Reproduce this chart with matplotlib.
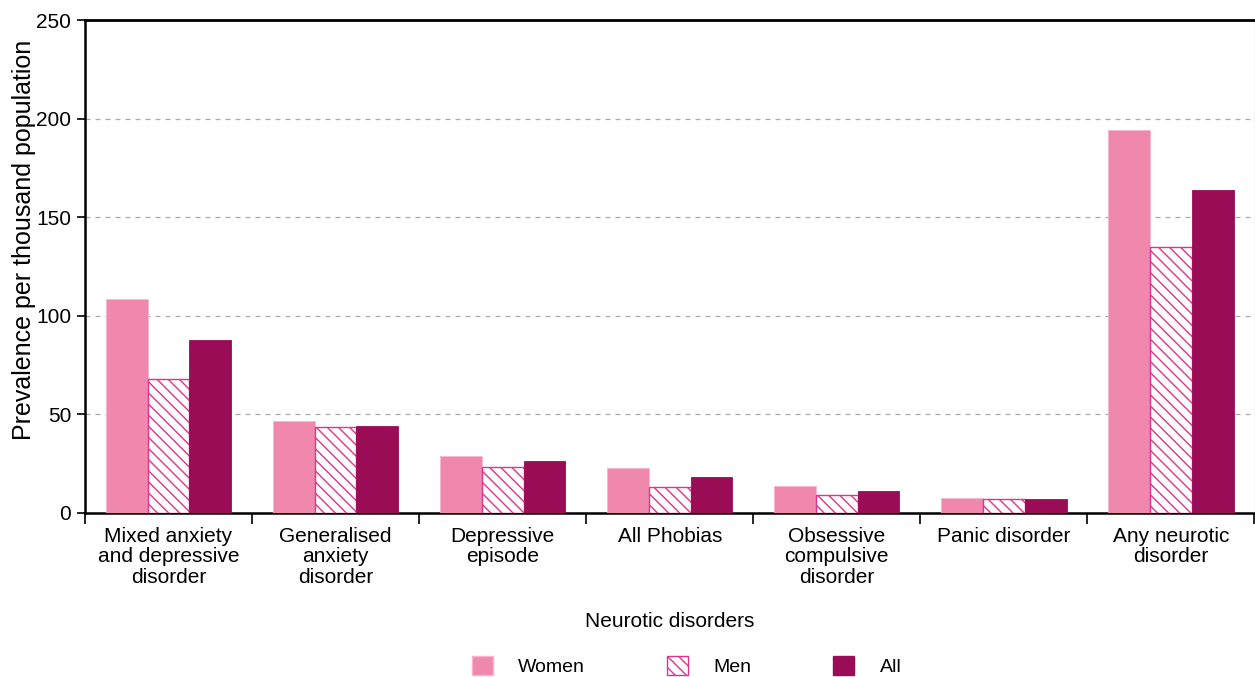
import matplotlib
matplotlib.use("Agg")
import matplotlib.pyplot as plt
import matplotlib.patches as mpatches
import numpy as np

plt.rcParams['font.family'] = ['Liberation Sans', 'DejaVu Sans']
plt.rcParams['hatch.linewidth'] = 1.0

categories = [
    "Mixed anxiety\nand depressive\ndisorder",
    "Generalised\nanxiety\ndisorder",
    "Depressive\nepisode",
    "All Phobias",
    "Obsessive\ncompulsive\ndisorder",
    "Panic disorder",
    "Any neurotic\ndisorder",
]
women = [108.5, 46.7, 28.9, 22.7, 13.8, 7.6, 194.2]
men = [68.0, 43.6, 23.3, 13.3, 9.1, 7.1, 134.9]
all_people = [87.7, 44.1, 26.4, 18.3, 11.2, 7.0, 163.8]

c_women = '#F088AE'
c_men_edge = '#E0338A'
c_all = '#9B0C57'

fig = plt.figure(figsize=(12.55, 6.77), dpi=100)
ax = fig.add_axes([85 / 1255, 1 - 513 / 677, 1169.5 / 1255, 493 / 677])

x = np.arange(len(categories))
w = 0.25
ax.bar(x - w, women, w, color=c_women, edgecolor='#F7B5CD', linewidth=0.6,
       zorder=3, label='Women')
ax.bar(x, men, w, facecolor='white', edgecolor=c_men_edge, hatch='\\\\\\',
       linewidth=1.0, zorder=3, label='Men')
ax.bar(x + w, all_people, w, color=c_all, edgecolor=c_all, linewidth=0.6,
       zorder=3, label='All')

ax.set_xlim(-0.5, len(categories) - 0.5)
ax.set_ylim(0, 250)
ax.set_yticks([0, 50, 100, 150, 200, 250])
ax.yaxis.grid(True, linestyle=(0, (4, 4)), color='#AAAAAA', linewidth=0.9, zorder=0)
ax.spines['top'].set_linewidth(2.0)
ax.spines['right'].set_color('#CCCCCC')
ax.spines['right'].set_linewidth(1.0)
ax.spines['left'].set_linewidth(1.8)
ax.spines['bottom'].set_linewidth(1.8)

ax.set_xticks(x)
ax.set_xticklabels(categories, fontsize=15, linespacing=1.1)
ax.set_xticks(np.arange(-0.5, len(categories)), minor=True)
ax.tick_params(axis='x', which='major', length=0, pad=10)
ax.tick_params(axis='x', which='minor', length=8, width=1.2, direction='out')
ax.tick_params(axis='y', length=6, width=1.2, labelsize=15, pad=4)

ax.set_ylabel('Prevalence per thousand population', fontsize=18)
ax.yaxis.set_label_coords(-0.042, 0.555)
ax.set_xlabel('Neurotic disorders', fontsize=15, labelpad=18)

handles = [
    mpatches.Patch(facecolor=c_women, edgecolor='#F7B5CD', label='Women'),
    mpatches.Patch(facecolor='white', edgecolor=c_men_edge, hatch='\\\\\\', label='Men'),
    mpatches.Patch(facecolor=c_all, edgecolor=c_all, label='All'),
]
fig.legend(handles=handles, loc='center', bbox_to_anchor=(0.547, 1 - 666 / 677),
           ncol=3, frameon=False, fontsize=14, handlelength=1.1, handleheight=1.1,
           handletextpad=1.3, columnspacing=4.2)

fig.savefig('out.png', dpi=100)
